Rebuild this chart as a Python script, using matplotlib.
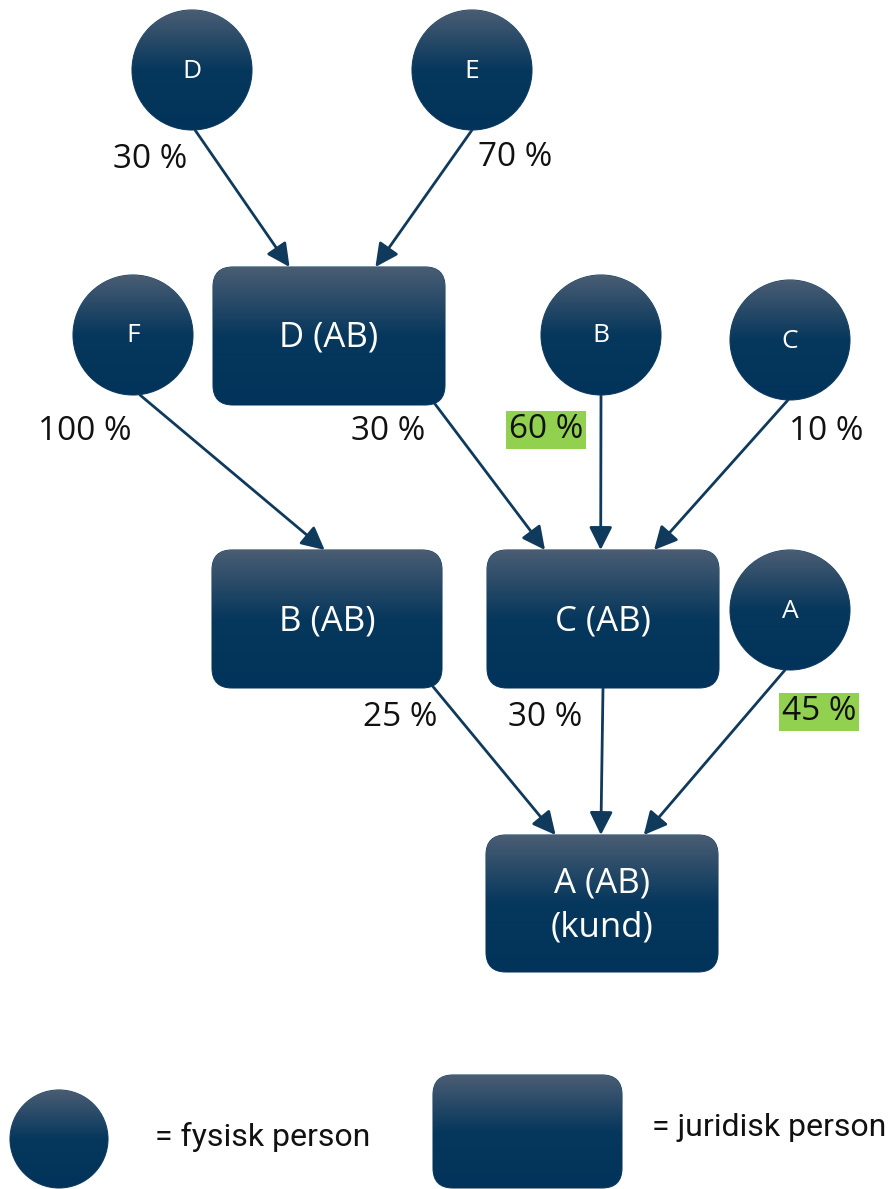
import numpy as np
import matplotlib
matplotlib.use("Agg")
import matplotlib.pyplot as plt
from matplotlib.patches import Circle, FancyBboxPatch, FancyArrowPatch
from matplotlib.colors import to_rgb

# ---- data ----
persons = ["D", "E", "F", "B", "C", "A"]                 # natural persons (circles)
companies = ["D (AB)", "B (AB)", "C (AB)", "A (AB)\n(kund)"]  # legal persons (boxes)
edge_src = ["D", "E", "F", "D (AB)", "B", "C", "B (AB)", "C (AB)", "A"]
edge_dst = ["D (AB)", "D (AB)", "B (AB)", "C (AB)", "C (AB)", "C (AB)",
            "A (AB)\n(kund)", "A (AB)\n(kund)", "A (AB)\n(kund)"]
edge_pct = [30, 70, 100, 30, 60, 10, 25, 30, 45]
highlight = [False, False, False, False, True, False, False, False, True]
legend_labels = ["= fysisk person", "= juridisk person"]

# ---- layout (pixel coords, y down) ----
circ_pos = {"D": (192, 70), "E": (472, 70), "F": (133, 335),
            "B": (601, 335), "C": (790, 340), "A": (790, 610)}
R = 60
box_pos = {"D (AB)": (213, 267, 232, 138), "B (AB)": (212, 550, 230, 138),
           "C (AB)": (487, 550, 232, 138), "A (AB)\n(kund)": (486, 835, 232, 137)}
end_fx = [0.33, 0.70, 0.49, 0.25, 0.49, 0.72, 0.30, 0.495, 0.68]
start_override = {3: (432, 400), 6: (430, 683)}
start_xoff = {0: 3, 2: 7, 5: -2, 8: -5}
label_xy = [(150, 160), (515, 157), (85, 432), (388, 432), (546, 430),
            (826, 432), (400, 718), (545, 718), (819, 712)]

W, H = 891, 1189
fig = plt.figure(figsize=(W / 100, H / 100), dpi=100)
ax = fig.add_axes([0, 0, 1, 1])
ax.set_xlim(0, W)
ax.set_ylim(H, 0)
ax.axis("off")

top = np.array(to_rgb("#4a5d73"))
mid = np.array(to_rgb("#06375c"))
bot = np.array(to_rgb("#02335a"))
n = 256
t = np.linspace(0, 1, n)
grad = np.zeros((n, 1, 3))
for i, v in enumerate(t):
    if v < 0.5:
        s = v / 0.5
        grad[i, 0] = top * (1 - s) + mid * s
    else:
        s = (v - 0.5) / 0.5
        grad[i, 0] = mid * (1 - s) + bot * s

FONT = "Open Sans"
NAVY = "#0f3a5c"


def grad_patch(patch, x0, y0, x1, y1):
    ax.add_patch(patch)
    im = ax.imshow(grad, extent=(x0, x1, y1, y0), aspect="auto",
                   origin="upper", zorder=3, interpolation="bilinear")
    im.set_clip_path(patch)
    ax.set_xlim(0, W)
    ax.set_ylim(H, 0)


def add_circle(cx, cy, r):
    c = Circle((cx, cy), r, facecolor="none", edgecolor="#1d4466", lw=0.8, zorder=2)
    grad_patch(c, cx - r, cy - r, cx + r, cy + r)


def add_box(x, y, w, h, rad=20):
    b = FancyBboxPatch((x + rad, y + rad), w - 2 * rad, h - 2 * rad,
                       boxstyle=f"round,pad={rad},rounding_size={rad}",
                       facecolor="none", edgecolor="#1d4466", lw=0.8, zorder=2)
    grad_patch(b, x, y, x + w, y + h)


for p in persons:
    cx, cy = circ_pos[p]
    add_circle(cx, cy, R)
    ax.text(cx, cy + 1, p, color="white", fontsize=19, family=FONT,
            ha="center", va="center", zorder=5)

for c in companies:
    x, y, w, h = box_pos[c]
    add_box(x, y, w, h)
    ax.text(x + w / 2, y + h / 2 + 2, c, color="white", fontsize=25, family=FONT,
            ha="center", va="center", zorder=5, linespacing=1.4)

for i, (s, d) in enumerate(zip(edge_src, edge_dst)):
    if i in start_override:
        sx, sy = start_override[i]
    elif s in circ_pos:
        cx, cy = circ_pos[s]
        sx, sy = cx + start_xoff.get(i, 0), cy + R
    else:
        x, y, w, h = box_pos[s]
        sx, sy = x + w / 2, y + h
    x, y, w, h = box_pos[d]
    ex, ey = x + end_fx[i] * w, y
    arr = FancyArrowPatch((sx, sy), (ex, ey),
                          arrowstyle="-|>,head_length=1.0,head_width=0.5",
                          mutation_scale=14, color=NAVY, lw=2,
                          shrinkA=0, shrinkB=0, zorder=1)
    ax.add_patch(arr)
    lx, ly = label_xy[i]
    kw = {}
    if highlight[i]:
        kw["bbox"] = dict(boxstyle="square,pad=0.08", fc="#92d050", ec="none")
    ax.text(lx, ly, f"{edge_pct[i]} %", fontsize=24, family=FONT, color="#111111",
            ha="center", va="center", zorder=5, **kw)

# legend
add_circle(59, 1139, 49)
ax.text(155, 1137, legend_labels[0], fontsize=23, family="Roboto",
        ha="left", va="center", color="#111111")
add_box(433, 1075, 189, 113, rad=20)
ax.text(652, 1128, legend_labels[1], fontsize=23, family="Roboto",
        ha="left", va="center", color="#111111")

fig.savefig("out.png", dpi=100)
